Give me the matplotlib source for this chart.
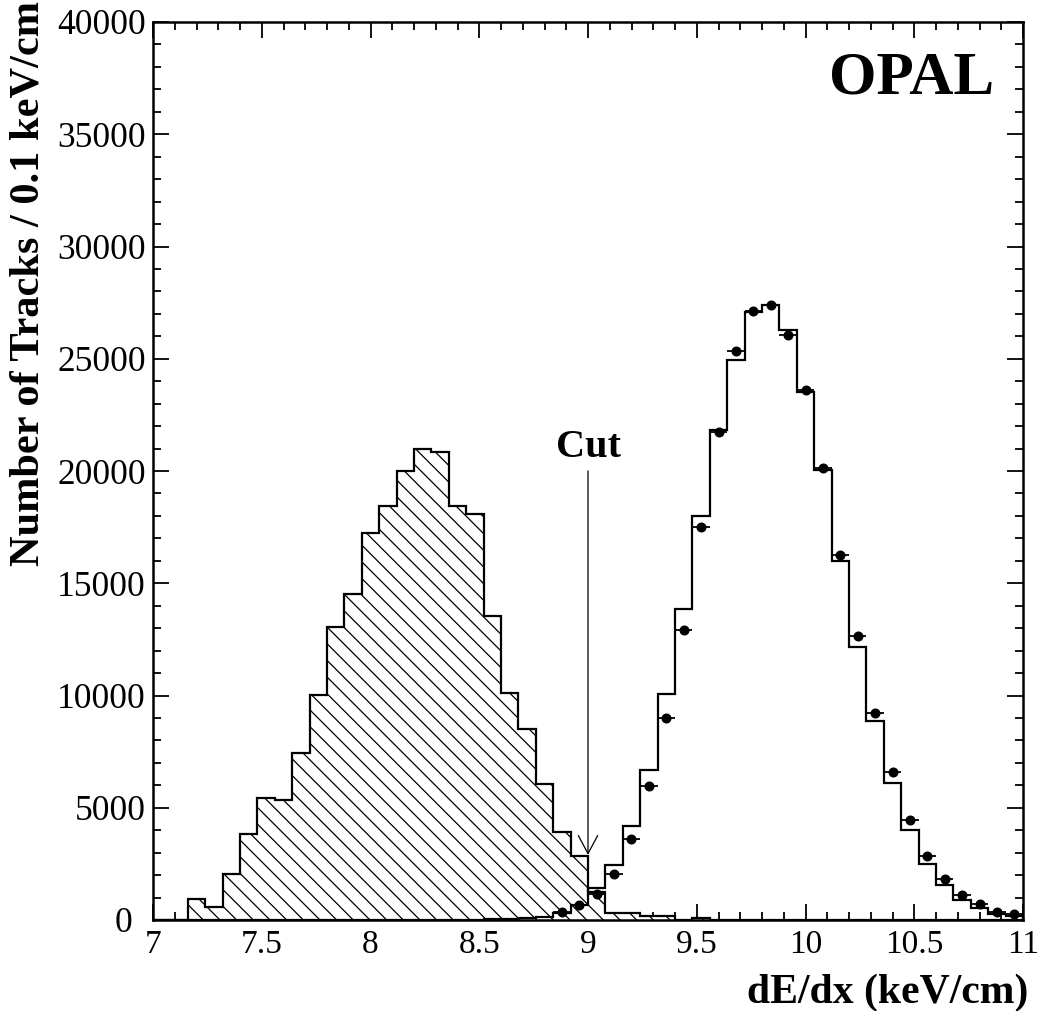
import numpy as np
import matplotlib
matplotlib.use("Agg")
import matplotlib.pyplot as plt
from matplotlib.ticker import MultipleLocator
from matplotlib.transforms import ScaledTranslation

# ---------------- data ----------------
bin_edges = np.round(np.arange(7.0, 11.0001, 0.08), 2)   # 50 bins of 0.08 keV/cm

# hatched histogram (pion-like background), one value per bin
hatched_counts = [0, 0, 930, 600, 2030, 3820, 5420, 5350, 7450, 10010,
                  13030, 14530, 17220, 18420, 20010, 20990, 20830, 18420, 18080, 13520,
                  10130, 8530, 6050, 3940, 2850, 1260, 330, 300, 200, 200,
                  0, 100, 0, 0, 0, 0, 0, 0, 0, 0,
                  0, 0, 0, 0, 0, 0, 0, 0, 0, 0]

# open histogram (simulation), one value per bin
open_counts = [0, 0, 0, 0, 0, 0, 0, 0, 0, 0,
               0, 0, 0, 0, 0, 0, 0, 0, 20, 30,
               50, 80, 150, 330, 670, 1440, 2450, 4200, 6690, 10070,
               13850, 17980, 21810, 24950, 27090, 27380, 26300, 23500, 20030, 16010,
               12140, 8880, 6090, 4000, 2480, 1560, 890, 520, 270, 180]

# data points
data_x = [8.88, 8.96, 9.04, 9.12, 9.20, 9.28, 9.36, 9.44, 9.52, 9.60,
          9.68, 9.76, 9.84, 9.92, 10.00, 10.08, 10.16, 10.24, 10.32, 10.40,
          10.48, 10.56, 10.64, 10.72, 10.80, 10.88, 10.96]
data_y = [340, 660, 1180, 2040, 3590, 5970, 9020, 12930, 17500, 21720,
          25330, 27140, 27380, 26040, 23590, 20130, 16270, 12640, 9210, 6580,
          4440, 2870, 1840, 1100, 700, 360, 270]

cut_value = 9.0
x_ticks = [7, 7.5, 8, 8.5, 9, 9.5, 10, 10.5, 11]
x_ticklabels = ["7", "7.5", "8", "8.5", "9", "9.5", "10", "10.5", "11"]
y_ticks = [0, 5000, 10000, 15000, 20000, 25000, 30000, 35000, 40000]

# ---------------- figure ----------------
plt.rcParams['font.family'] = ['Liberation Serif', 'DejaVu Serif']
plt.rcParams['hatch.linewidth'] = 0.9

W, H = 1043, 1011
fig = plt.figure(figsize=(W / 100, H / 100), dpi=100)
ax = fig.add_axes([153 / W, 1 - 920 / H, (1023 - 153) / W, (920 - 22) / H])

ax.stairs(hatched_counts, bin_edges, fill=True, facecolor='white',
          edgecolor='black', hatch='\\\\', linewidth=1.6, zorder=2)
ax.stairs(open_counts, bin_edges, fill=False, color='black',
          linewidth=1.6, zorder=3)
ax.errorbar(data_x, data_y, xerr=0.04, fmt='o', color='black', ms=6.2,
            elinewidth=1.3, capsize=0, zorder=4)

# cut arrow
ax.annotate('', xy=(cut_value, 2900), xytext=(cut_value, 20000),
            arrowprops=dict(arrowstyle='->,head_length=0.65,head_width=0.35',
                            lw=0.9, color='black', mutation_scale=20,
                            shrinkA=0, shrinkB=0), zorder=5)
ax.text(cut_value, 21050, 'Cut', ha='center', va='center', fontsize=29,
        fontweight='bold')

fig.text(994 / W, 1 - 78 / H, 'OPAL', ha='right', va='center',
         fontsize=44, fontweight='bold')

ax.set_xlim(7, 11)
ax.set_ylim(0, 40000)
ax.set_xticks(x_ticks)
ax.set_xticklabels(x_ticklabels)
ax.set_yticks(y_ticks)
ax.set_yticklabels([str(v) for v in y_ticks])
ax.xaxis.set_minor_locator(MultipleLocator(0.1))
ax.yaxis.set_minor_locator(MultipleLocator(1000))
ax.tick_params(which='both', direction='in', top=True, right=True,
               width=1.3, color='black')
ax.tick_params(axis='x', labelsize=24)
ax.tick_params(axis='y', labelsize=25.5)
ax.tick_params(which='major', length=11.5)
ax.tick_params(which='minor', length=5.8)
ax.tick_params(axis='x', which='major', pad=7)
ax.tick_params(axis='y', which='major', pad=5)
for s in ax.spines.values():
    s.set_linewidth(1.8)

# the "0" label of the y axis sits a little further left
ylabels = ax.get_yticklabels()
ylabels[0].set_transform(ylabels[0].get_transform() +
                         ScaledTranslation(-14 / 100, 0, fig.dpi_scale_trans))

fig.text(1028 / W, 1 - 1003 / H, 'dE/dx (keV/cm)', ha='right', va='baseline',
         fontsize=30, fontweight='bold')
fig.text(29 / W, 1 - 1 / H, 'Number of Tracks / 0.1 keV/cm', ha='center',
         va='top', rotation=90, fontsize=30.5, fontweight='bold')

fig.savefig('out.png', dpi=100)
